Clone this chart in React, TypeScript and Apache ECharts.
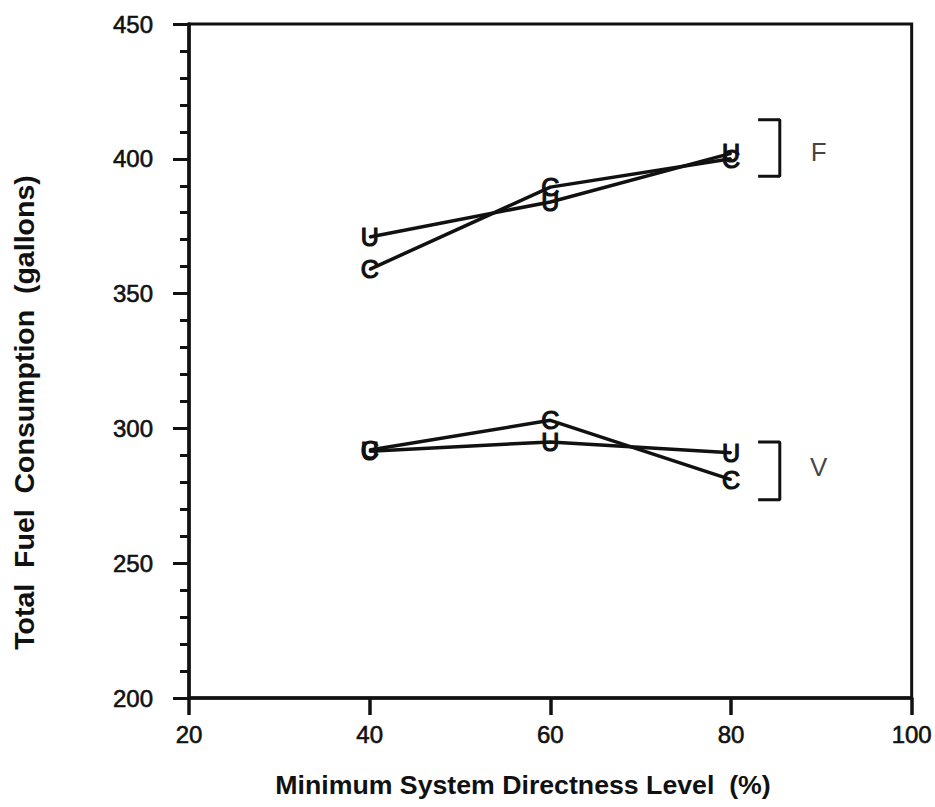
import React, { useEffect, useRef } from "react";
import * as echarts from "echarts";

const xLevels = [40, 60, 80];
const fuelU = [371, 384, 402];
const fuelC = [359, 389.5, 400];
const varU = [291.5, 295, 291];
const varC = [292, 303, 281];
const xTicks = [20, 40, 60, 80, 100];
const yTicks = [200, 250, 300, 350, 400, 450];
const bracketF = [[83, 414.5], [85.4, 414.5], [85.4, 393.5], [83, 393.5]];
const bracketV = [[83, 295], [85.4, 295], [85.4, 273.5], [83, 273.5]];
const groupLabels = [
  { name: "F", x: 89.7, y: 402.5 },
  { name: "V", x: 89.7, y: 285.5 },
];

const FONT = "'Liberation Sans', Arial, Helvetica, sans-serif";

function letterSeries(name: string, ys: number[], letter: string) {
  return {
    type: "line",
    name,
    data: xLevels.map((x, i) => [x, ys[i]]),
    symbol: "circle",
    symbolSize: 2,
    itemStyle: { color: "#111" },
    lineStyle: { color: "#111", width: 3.5 },
    label: {
      show: true,
      position: "inside",
      formatter: letter,
      color: "#111",
      fontFamily: FONT,
      fontSize: 25,
      fontWeight: "normal",
      textBorderColor: "#111",
      textBorderWidth: 1.2,
    },
    z: 3,
  };
}

function bracketSeries(data: number[][]) {
  return {
    type: "line",
    data,
    symbol: "none",
    lineStyle: { color: "#111", width: 3 },
    z: 2,
  };
}

export default function App() {
  const ref = useRef<HTMLDivElement>(null);
  useEffect(() => {
    const chart = echarts.init(ref.current!, undefined, { renderer: "svg" });
    const tickLabel = {
      color: "#111",
      fontSize: 24,
      fontFamily: FONT,
      textBorderColor: "#111",
      textBorderWidth: 0.6,
    };
    chart.setOption({
      animation: false,
      backgroundColor: "#fff",
      grid: {
        left: 189,
        right: 20,
        top: 24,
        bottom: 109,
        show: true,
        borderColor: "#111",
        borderWidth: 3,
      },
      xAxis: {
        type: "value",
        min: xTicks[0],
        max: xTicks[xTicks.length - 1],
        interval: 20,
        axisLine: { show: true, lineStyle: { color: "#111", width: 3.5 } },
        axisTick: { show: true, inside: false, length: 17, lineStyle: { color: "#111", width: 3.5 } },
        splitLine: { show: false },
        axisLabel: { ...tickLabel, margin: 24 },
      },
      yAxis: {
        type: "value",
        min: yTicks[0],
        max: yTicks[yTicks.length - 1],
        interval: 50,
        axisLine: { show: true, lineStyle: { color: "#111", width: 3.5 } },
        axisTick: { show: true, inside: false, length: 16, lineStyle: { color: "#111", width: 3 } },
        minorTick: { show: true, splitNumber: 5, length: 9, lineStyle: { color: "#111", width: 3 } },
        splitLine: { show: false },
        axisLabel: { ...tickLabel, margin: 36 },
      },
      series: [
        letterSeries("Fuel U", fuelU, "U"),
        letterSeries("Fuel C", fuelC, "C"),
        letterSeries("Var U", varU, "U"),
        letterSeries("Var C", varC, "C"),
        bracketSeries(bracketF),
        bracketSeries(bracketV),
        {
          type: "scatter",
          data: groupLabels.map((g) => ({ name: g.name, value: [g.x, g.y] })),
          symbol: "circle",
          symbolSize: 1,
          itemStyle: { color: "rgba(0,0,0,0)" },
          label: {
            show: true,
            position: "inside",
            formatter: "{b}",
            color: "#111",
            fontSize: 26,
            fontFamily: FONT,
          },
        },
      ],
      graphic: [
        {
          type: "text",
          x: 523,
          y: 785,
          style: {
            text: "Minimum System Directness Level  (%)",
            fill: "#111",
            font: `bold 26.7px ${FONT}`,
            align: "center",
            verticalAlign: "middle",
          },
        },
        {
          type: "text",
          x: 24,
          y: 412.5,
          rotation: Math.PI / 2,
          style: {
            text: "Total  Fuel  Consumption  (gallons)",
            fill: "#111",
            font: `bold 28.5px ${FONT}`,
            align: "center",
            verticalAlign: "middle",
          },
        },
      ],
    });
    return () => chart.dispose();
  }, []);
  return (
    <div
      ref={ref}
      style={{ position: "fixed", left: 0, top: 0, width: 935, height: 807, background: "#fff" }}
    />
  );
}
